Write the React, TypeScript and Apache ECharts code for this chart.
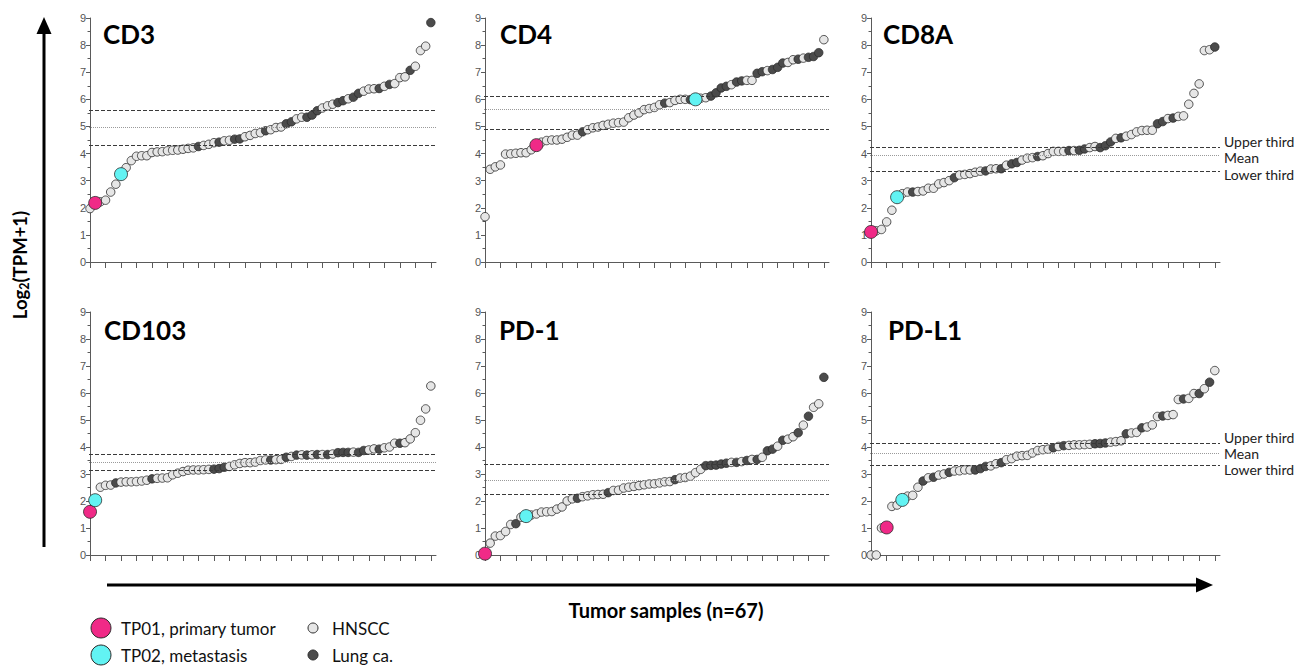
import React, { useEffect, useRef } from "react";
import * as echarts from "echarts";

// ---------- DATA ----------
const panelNames = ["CD3", "CD4", "CD8A", "CD103", "PD-1", "PD-L1"];

const cd3Values = [1.97, 2.18, 2.22, 2.28, 2.58, 2.87, 3.24, 3.48, 3.74, 3.9, 3.92, 3.92, 4.04, 4.06, 4.07, 4.1, 4.12, 4.13, 4.16, 4.19, 4.21, 4.26, 4.3, 4.34, 4.4, 4.42, 4.47, 4.49, 4.53, 4.54, 4.62, 4.67, 4.74, 4.77, 4.84, 4.88, 4.96, 4.98, 5.1, 5.17, 5.28, 5.34, 5.34, 5.42, 5.58, 5.68, 5.76, 5.82, 5.88, 5.95, 6.02, 6.08, 6.22, 6.3, 6.38, 6.39, 6.4, 6.48, 6.55, 6.58, 6.8, 6.83, 7.07, 7.22, 7.8, 7.96, 8.83];
const cd3Lung = [21, 25, 28, 29, 34, 38, 39, 42, 43, 44, 48, 49, 51, 52, 56, 58, 62, 66];
const cd3Tp = [1, 6];
const cd3Lines = [5.58, 4.98, 4.3];

const cd4Values = [1.67, 3.42, 3.51, 3.58, 3.98, 3.99, 4.01, 4.03, 4.03, 4.14, 4.31, 4.42, 4.48, 4.5, 4.5, 4.53, 4.6, 4.68, 4.68, 4.8, 4.88, 4.95, 4.98, 5.04, 5.08, 5.12, 5.14, 5.16, 5.32, 5.42, 5.5, 5.62, 5.66, 5.7, 5.8, 5.86, 5.88, 5.96, 6.0, 6.0, 5.99, 6.0, 6.04, 6.06, 6.12, 6.24, 6.42, 6.48, 6.54, 6.64, 6.68, 6.7, 6.7, 6.96, 7.02, 7.06, 7.1, 7.18, 7.34, 7.36, 7.46, 7.48, 7.52, 7.55, 7.58, 7.72, 8.2];
const cd4Lung = [19, 35, 40, 44, 45, 46, 47, 49, 50, 53, 54, 56, 57, 58, 61, 63, 64, 65];
const cd4Tp = [10, 41];
const cd4Lines = [6.13, 5.62, 4.91];

const cd8aValues = [1.11, 1.15, 1.2, 1.48, 1.91, 2.39, 2.52, 2.58, 2.58, 2.6, 2.62, 2.72, 2.72, 2.88, 2.93, 3.0, 3.11, 3.21, 3.23, 3.26, 3.31, 3.35, 3.36, 3.43, 3.44, 3.44, 3.57, 3.62, 3.67, 3.76, 3.83, 3.85, 3.89, 3.92, 4.0, 4.08, 4.08, 4.08, 4.11, 4.11, 4.12, 4.17, 4.22, 4.26, 4.22, 4.29, 4.43, 4.56, 4.58, 4.64, 4.7, 4.8, 4.85, 4.86, 4.86, 5.1, 5.18, 5.29, 5.31, 5.37, 5.39, 5.82, 6.22, 6.57, 7.8, 7.83, 7.93];
const cd8aLung = [8, 16, 22, 25, 27, 28, 32, 38, 40, 41, 44, 45, 46, 48, 55, 56, 58, 66];
const cd8aTp = [0, 5];
const cd8aLines = [4.25, 3.95, 3.35];

const cd103Values = [1.6, 2.03, 2.51, 2.58, 2.59, 2.67, 2.7, 2.71, 2.71, 2.72, 2.74, 2.77, 2.82, 2.84, 2.85, 2.86, 2.97, 3.03, 3.09, 3.14, 3.15, 3.15, 3.16, 3.17, 3.18, 3.2, 3.25, 3.28, 3.34, 3.39, 3.42, 3.42, 3.44, 3.5, 3.52, 3.52, 3.53, 3.54, 3.62, 3.65, 3.7, 3.71, 3.7, 3.71, 3.72, 3.72, 3.72, 3.74, 3.79, 3.8, 3.8, 3.81, 3.8, 3.87, 3.89, 3.93, 3.92, 3.97, 4.0, 4.14, 4.14, 4.16, 4.3, 4.53, 4.99, 5.41, 6.26];
const cd103Lung = [5, 12, 24, 25, 26, 35, 38, 40, 42, 44, 46, 48, 49, 50, 52, 53, 56, 60];
const cd103Tp = [0, 1];
const cd103Lines = [3.72, 3.44, 3.15];

const pd1Values = [0.05, 0.44, 0.7, 0.72, 0.87, 1.13, 1.16, 1.4, 1.44, 1.48, 1.52, 1.59, 1.6, 1.61, 1.7, 1.78, 2.0, 2.08, 2.1, 2.16, 2.19, 2.23, 2.24, 2.25, 2.31, 2.39, 2.4, 2.48, 2.51, 2.54, 2.57, 2.6, 2.63, 2.64, 2.67, 2.71, 2.72, 2.79, 2.85, 2.87, 2.92, 3.05, 3.17, 3.31, 3.32, 3.33, 3.37, 3.4, 3.43, 3.43, 3.46, 3.5, 3.54, 3.54, 3.62, 3.86, 3.92, 4.03, 4.25, 4.29, 4.38, 4.53, 4.81, 5.14, 5.47, 5.6, 6.58];
const pd1Lung = [6, 18, 24, 37, 43, 44, 45, 46, 47, 49, 51, 53, 55, 56, 58, 61, 63, 66];
const pd1Tp = [0, 8];
const pd1Lines = [3.36, 2.76, 2.24];

const pdl1Values = [0.0, 0.0, 1.0, 1.02, 1.8, 1.85, 2.04, 2.18, 2.21, 2.51, 2.74, 2.86, 2.88, 2.96, 3.0, 3.06, 3.11, 3.12, 3.15, 3.15, 3.15, 3.2, 3.28, 3.3, 3.38, 3.42, 3.53, 3.57, 3.66, 3.68, 3.69, 3.78, 3.87, 3.9, 3.92, 3.97, 4.02, 4.05, 4.06, 4.08, 4.08, 4.09, 4.1, 4.12, 4.13, 4.15, 4.18, 4.2, 4.23, 4.49, 4.52, 4.54, 4.71, 4.74, 4.82, 5.13, 5.15, 5.17, 5.2, 5.76, 5.78, 5.8, 5.98, 5.98, 6.16, 6.4, 6.83];
const pdl1Lung = [10, 12, 15, 20, 21, 22, 25, 35, 37, 43, 44, 45, 49, 52, 56, 60, 63, 65];
const pdl1Tp = [3, 6];
const pdl1Lines = [4.15, 3.78, 3.31];

const lineLabels = ["Upper third", "Mean", "Lower third"];
const yTicks = [0, 1, 2, 3, 4, 5, 6, 7, 8, 9];
const xTickRanks = [0, 3, 6, 9, 12, 15, 18, 21, 24, 27, 30, 33, 36, 39, 42, 45, 48, 51, 54, 57, 60, 63, 66];
const legendItems = ["TP01, primary tumor", "TP02, metastasis", "HNSCC", "Lung ca."];
const xTitle = "Tumor samples (n=67)";

// ---------- STYLE / LAYOUT ----------
const LIGHT = "#e6e6e6";
const DARK = "#4b4b4b";
const PINK = "#f02a87";
const CYAN = "#62f3f3";
const EDGE = "#2b2b2b";
const AXIS = "#5a5a5a";

const grids = [
  { left: 89, top: 18, width: 347, height: 244 },
  { left: 484, top: 18, width: 345, height: 244 },
  { left: 870, top: 18, width: 350, height: 244 },
  { left: 89, top: 312, width: 347, height: 243 },
  { left: 484, top: 312, width: 345, height: 243 },
  { left: 870, top: 312, width: 350, height: 243 },
];
const titlePos = [
  [103, 34], [500, 34], [883, 34],
  [104, 330], [499, 330], [888, 330],
];

const panels = [
  { values: cd3Values, lung: cd3Lung, tp: cd3Tp, lines: cd3Lines, labels: false },
  { values: cd4Values, lung: cd4Lung, tp: cd4Tp, lines: cd4Lines, labels: false },
  { values: cd8aValues, lung: cd8aLung, tp: cd8aTp, lines: cd8aLines, labels: true },
  { values: cd103Values, lung: cd103Lung, tp: cd103Tp, lines: cd103Lines, labels: false },
  { values: pd1Values, lung: pd1Lung, tp: pd1Tp, lines: pd1Lines, labels: false },
  { values: pdl1Values, lung: pdl1Lung, tp: pdl1Tp, lines: pdl1Lines, labels: true },
];

export default function App() {
  const ref = useRef<HTMLDivElement>(null);

  useEffect(() => {
    if (!ref.current) return;
    const chart = echarts.init(ref.current, undefined, { renderer: "svg" });

    const xAxes: any[] = [];
    const yAxes: any[] = [];
    const series: any[] = [];

    panels.forEach((p, k) => {
      xAxes.push({
        gridIndex: k,
        type: "value",
        min: -0.2,
        max: 67,
        axisLine: { show: true, onZero: false, lineStyle: { color: AXIS, width: 1 } },
        axisTick: { show: true, length: 6, customValues: xTickRanks, lineStyle: { color: AXIS } },
        axisLabel: { show: false },
        splitLine: { show: false },
      });
      yAxes.push({
        gridIndex: k,
        type: "value",
        min: yTicks[0],
        max: yTicks[yTicks.length - 1],
        interval: 1,
        axisLine: { show: true, lineStyle: { color: AXIS, width: 1 } },
        axisTick: { show: true, length: 4, lineStyle: { color: AXIS } },
        minorTick: { show: true, splitNumber: 2, length: 2.5, lineStyle: { color: AXIS } },
        axisLabel: { color: "#555", fontSize: 11, margin: 3, fontFamily: "Liberation Sans, Arial, sans-serif" },
        splitLine: { show: false },
      });

      series.push({
        type: "scatter",
        xAxisIndex: k,
        yAxisIndex: k,
        data: [],
        z: 1,
        silent: true,
        markLine: {
          silent: true,
          symbol: ["none", "none"],
          label: { show: false },
          animation: false,
          data: [
            { yAxis: p.lines[0], lineStyle: { color: "#3a3a3a", width: 1, type: [4, 2] } },
            { yAxis: p.lines[1], lineStyle: { color: "#9a9a9a", width: 1, type: [1, 1] } },
            { yAxis: p.lines[2], lineStyle: { color: "#3a3a3a", width: 1, type: [4, 2] } },
          ],
        },
      });

      const normal = p.values
        .map((v, i) => ({ i, v }))
        .filter((d) => !p.tp.includes(d.i))
        .map((d) => ({
          value: [d.i, d.v],
          itemStyle: { color: p.lung.includes(d.i) ? DARK : LIGHT },
        }));
      series.push({
        type: "scatter",
        xAxisIndex: k,
        yAxisIndex: k,
        symbol: "circle",
        symbolSize: 8.5,
        z: 3,
        silent: true,
        itemStyle: { borderColor: EDGE, borderWidth: 0.8, opacity: 1 },
        data: normal,
      });
      series.push({
        type: "scatter",
        xAxisIndex: k,
        yAxisIndex: k,
        symbol: "circle",
        symbolSize: 13,
        z: 4,
        silent: true,
        itemStyle: { color: PINK, borderColor: EDGE, borderWidth: 0.8, opacity: 1 },
        data: [[p.tp[0], p.values[p.tp[0]]]],
      });
      series.push({
        type: "scatter",
        xAxisIndex: k,
        yAxisIndex: k,
        symbol: "circle",
        symbolSize: 13,
        z: 5,
        silent: true,
        itemStyle: { color: CYAN, borderColor: EDGE, borderWidth: 0.8, opacity: 1 },
        data: [[p.tp[1], p.values[p.tp[1]]]],
      });
    });

    chart.setOption({
      animation: false,
      grid: grids.map((g) => ({ ...g, containLabel: false })),
      xAxis: xAxes,
      yAxis: yAxes,
      series,
    });

    const graphics: any[] = [];
    // panel titles
    panelNames.forEach((name, k) => {
      graphics.push({
        type: "text",
        x: titlePos[k][0],
        y: titlePos[k][1],
        style: {
          text: name,
          fontFamily: "Lato, Open Sans, sans-serif",
          fontWeight: "bold",
          fontSize: 26,
          fill: "#000",
          verticalAlign: "middle",
          align: "left",
        },
      });
    });
    // line labels on right panels (spread so they do not collide)
    const labelOffsets = [-5, 1, 3];
    const minGap = 15.5;
    panels.forEach((p, k) => {
      if (!p.labels) return;
      let prevY = -Infinity;
      p.lines.forEach((v, j) => {
        const px = chart.convertToPixel({ gridIndex: k }, [67, v]) as number[];
        const y = Math.max(px[1] + labelOffsets[j], prevY + minGap);
        prevY = y;
        graphics.push({
          type: "text",
          x: px[0] + 4,
          y,
          style: {
            text: lineLabels[j],
            fontFamily: "Lato, sans-serif",
            fontSize: 14,
            fill: "#222",
            verticalAlign: "middle",
            align: "left",
          },
        });
      });
    });
    // vertical arrow + label
    graphics.push({ type: "line", shape: { x1: 44, y1: 547, x2: 44, y2: 28 }, style: { stroke: "#000", lineWidth: 3 } });
    graphics.push({ type: "polygon", shape: { points: [[44, 17], [36.5, 34], [51.5, 34]] }, style: { fill: "#000" } });
    graphics.push({
      type: "text",
      x: 20,
      y: 265,
      rotation: Math.PI / 2,
      style: {
        text: "Log{s|2}(TPM+1)",
        fontFamily: "Lato, sans-serif",
        fontWeight: "bold",
        fontSize: 18.5,
        fill: "#000",
        align: "center",
        verticalAlign: "middle",
        rich: {
          s: { fontFamily: "Lato, sans-serif", fontWeight: "bold", fontSize: 12.5, padding: [8, 0, 0, 0], fill: "#000" },
        },
      },
    });
    // horizontal arrow + title
    graphics.push({ type: "line", shape: { x1: 107, y1: 585, x2: 1200, y2: 585 }, style: { stroke: "#000", lineWidth: 3 } });
    graphics.push({ type: "polygon", shape: { points: [[1213, 585], [1196, 577.5], [1196, 592.5]] }, style: { fill: "#000" } });
    graphics.push({
      type: "text",
      x: 666,
      y: 610,
      style: {
        text: xTitle,
        fontFamily: "Lato, sans-serif",
        fontWeight: "bold",
        fontSize: 20,
        fill: "#000",
        align: "center",
        verticalAlign: "middle",
      },
    });
    // legend
    const legendMarks = [
      { cx: 101, cy: 628, r: 10, fill: PINK },
      { cx: 101, cy: 655, r: 10, fill: CYAN },
      { cx: 313, cy: 628, r: 5, fill: LIGHT },
      { cx: 313, cy: 655, r: 5, fill: DARK },
    ];
    const legendTextX = [121, 121, 332, 332];
    legendMarks.forEach((m, j) => {
      graphics.push({
        type: "circle",
        shape: { cx: m.cx, cy: m.cy, r: m.r },
        style: { fill: m.fill, stroke: EDGE, lineWidth: 1 },
      });
      graphics.push({
        type: "text",
        x: legendTextX[j],
        y: m.cy,
        style: {
          text: legendItems[j],
          fontFamily: "Lato, sans-serif",
          fontSize: 17,
          fill: "#111",
          align: "left",
          verticalAlign: "middle",
        },
      });
    });

    chart.setOption({ graphic: graphics });

    return () => chart.dispose();
  }, []);

  return (
    <div
      ref={ref}
      style={{ position: "fixed", left: 0, top: 0, width: 1300, height: 666, background: "#fff" }}
    />
  );
}
